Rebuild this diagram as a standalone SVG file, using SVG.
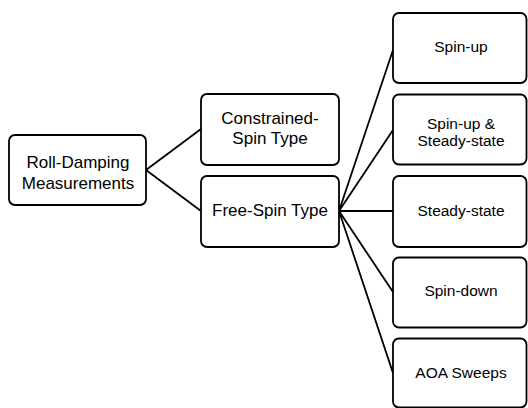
<svg xmlns="http://www.w3.org/2000/svg" width="528" height="408" viewBox="0 0 528 408">
  <style>
    .box { fill: #ffffff; stroke: #000000; stroke-width: 1.8; }
    .lbl { font-family: "Liberation Sans", Arial, sans-serif; font-size: 17px; fill: #000000; text-anchor: middle; }
    .sm { font-size: 15.5px; }
    .edge { stroke: #000000; stroke-width: 1.8; fill: none; }
  </style>
  <rect width="528" height="408" fill="#ffffff"/>

  <g id="connectors">
    <line class="edge" x1="146" y1="170" x2="201" y2="129"/>
    <line class="edge" x1="146" y1="170" x2="201" y2="211"/>
    <line class="edge" x1="339" y1="211" x2="393" y2="50"/>
    <line class="edge" x1="339" y1="211" x2="393" y2="130"/>
    <line class="edge" x1="339" y1="211" x2="393" y2="211"/>
    <line class="edge" x1="339" y1="211" x2="393" y2="292"/>
    <line class="edge" x1="339" y1="211" x2="393" y2="373"/>
  </g>

  <g id="roll-damping">
    <rect class="box" x="9" y="135" width="137" height="70" rx="6"/>
    <text class="lbl" x="78" y="167.5">Roll-Damping</text>
    <text class="lbl" x="78" y="189">Measurements</text>
  </g>

  <g id="constrained-spin">
    <rect class="box" x="201" y="94" width="138" height="71" rx="6"/>
    <text class="lbl" x="270" y="124">Constrained-</text>
    <text class="lbl" x="270" y="143.5">Spin Type</text>
  </g>

  <g id="free-spin">
    <rect class="box" x="201" y="176" width="138" height="71" rx="6"/>
    <text class="lbl" x="270" y="216">Free-Spin Type</text>
  </g>

  <g id="spin-up">
    <rect class="box" x="393" y="13" width="133.5" height="70" rx="6"/>
    <text class="lbl sm" x="461" y="52">Spin-up</text>
  </g>

  <g id="spin-up-steady">
    <rect class="box" x="393" y="94.5" width="133.5" height="70" rx="6"/>
    <text class="lbl sm" x="461" y="129">Spin-up &amp;</text>
    <text class="lbl sm" x="461" y="146">Steady-state</text>
  </g>

  <g id="steady-state">
    <rect class="box" x="393" y="176" width="133.5" height="71" rx="6"/>
    <text class="lbl sm" x="461" y="215.5">Steady-state</text>
  </g>

  <g id="spin-down">
    <rect class="box" x="393" y="257.5" width="133.5" height="70" rx="6"/>
    <text class="lbl sm" x="461" y="295.5">Spin-down</text>
  </g>

  <g id="aoa-sweeps">
    <rect class="box" x="393" y="338.5" width="133.5" height="69" rx="6"/>
    <text class="lbl sm" x="461" y="378">AOA Sweeps</text>
  </g>
</svg>
